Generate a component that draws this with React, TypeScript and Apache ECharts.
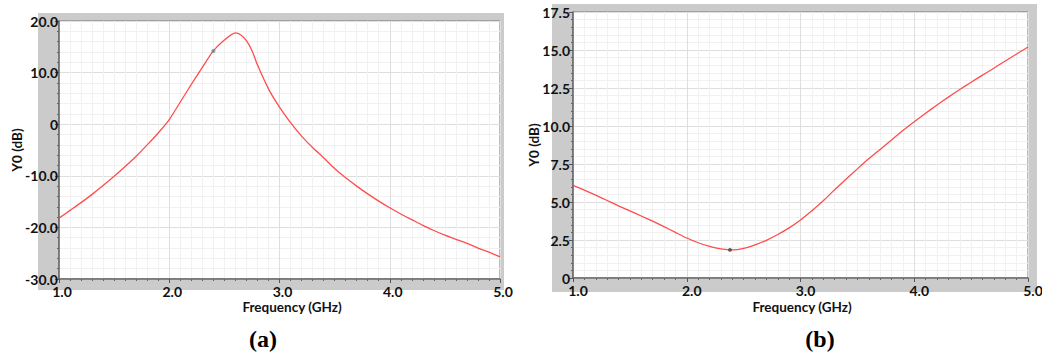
import React, { useEffect, useRef } from "react";
import * as echarts from "echarts";

// Frequency (GHz) sample points
const freqLeft = [1.0, 1.1, 1.2, 1.3, 1.4, 1.5, 1.6, 1.7, 1.8, 1.9, 2.0, 2.1, 2.2, 2.3, 2.4, 2.5, 2.6, 2.65, 2.7, 2.75, 2.8, 2.9, 3.0, 3.1, 3.2, 3.3, 3.4, 3.5, 3.6, 3.7, 3.8, 3.9, 4.0, 4.1, 4.2, 4.3, 4.4, 4.5, 4.6, 4.7, 4.8, 4.9, 5.0];
// Y0 (dB), chart (a)
const dbLeft = [-18.2, -16.7, -15.2, -13.6, -11.9, -10.1, -8.2, -6.2, -4.0, -1.7, 0.9, 4.3, 7.7, 11.0, 14.2, 16.3, 17.7, 17.3, 16.2, 14.3, 11.5, 6.85, 3.3, 0.3, -2.3, -4.5, -6.5, -8.6, -10.4, -12.0, -13.5, -14.9, -16.2, -17.4, -18.5, -19.6, -20.6, -21.5, -22.3, -23.1, -24.0, -24.8, -25.7];

const freqRight = [1.0, 1.1, 1.2, 1.3, 1.4, 1.5, 1.6, 1.7, 1.8, 1.9, 2.0, 2.1, 2.2, 2.3, 2.4, 2.5, 2.6, 2.7, 2.8, 2.9, 3.0, 3.1, 3.2, 3.3, 3.4, 3.5, 3.6, 3.7, 3.8, 3.9, 4.0, 4.1, 4.2, 4.3, 4.4, 4.5, 4.6, 4.7, 4.8, 4.9, 5.0];
// Y0 (dB), chart (b)
const dbRight = [6.1, 5.78, 5.45, 5.1, 4.75, 4.42, 4.08, 3.74, 3.38, 3.0, 2.63, 2.32, 2.08, 1.92, 1.85, 1.95, 2.18, 2.48, 2.86, 3.3, 3.82, 4.42, 5.08, 5.8, 6.5, 7.18, 7.84, 8.46, 9.08, 9.7, 10.28, 10.84, 11.38, 11.9, 12.4, 12.88, 13.35, 13.8, 14.28, 14.74, 15.2];

// marker points [freq, dB]
const markerLeft = [2.4, 14.2];
const markerRight = [2.38, 1.85];

const xTicks = { min: 1, max: 5, interval: 1 };
const yTicksLeft = { min: -30, max: 20, interval: 10 };
const yTicksRight = { min: 0, max: 17.5, interval: 2.5 };

const xTitle = "Frequency (GHz)";
const yTitle = "Y0 (dB)";
const panelLabels = ["(a)", "(b)"];

const FONT = "Lato, 'Open Sans', sans-serif";

function zip(xs: number[], ys: number[]) {
  return xs.map((x, i) => [x, ys[i]]);
}

const labelStyle = {
  color: "#111",
  fontFamily: FONT,
  fontWeight: "bold" as const,
  fontSize: 14,
  lineHeight: 12,
};

function makeX(gridIndex: number, shift: number) {
  return {
    type: "value",
    gridIndex,
    ...xTicks,
    axisLine: { show: true, onZero: false, lineStyle: { color: "#666", width: 1.5 } },
    axisTick: { show: true, length: 4, lineStyle: { color: "#555" } },
    minorTick: { show: true, splitNumber: 10, length: 2, lineStyle: { color: "#666" } },
    splitLine: { show: true, lineStyle: { color: "#dedede", width: 1 } },
    minorSplitLine: { show: true, lineStyle: { color: "#f1f1f1", width: 1 } },
    axisLabel: { ...labelStyle, margin: 6, padding: [0, 0, 0, shift], formatter: (v: number) => v.toFixed(1) },
  };
}

function makeY(gridIndex: number, ticks: any, margin: number) {
  return {
    type: "value",
    gridIndex,
    ...ticks,
    axisLine: { show: true, onZero: false, lineStyle: { color: "#666", width: 1.5 } },
    axisTick: { show: true, length: 4, lineStyle: { color: "#555" } },
    minorTick: { show: true, splitNumber: 5, length: 2, lineStyle: { color: "#666" } },
    splitLine: { show: true, lineStyle: { color: "#dedede", width: 1 } },
    minorSplitLine: { show: true, lineStyle: { color: "#f1f1f1", width: 1 } },
    axisLabel: {
      ...labelStyle,
      margin,
      formatter: (v: number) => (v === 0 ? "0" : v.toFixed(1)),
    },
  };
}

const lineSeries = (idx: number, data: number[][]) => ({
  type: "line",
  xAxisIndex: idx,
  yAxisIndex: idx,
  data,
  showSymbol: false,
  smooth: 0.25,
  lineStyle: { color: "#ff3a3a", width: 1.3, opacity: 0.9 },
  z: 3,
});

const markerSeries = (idx: number, p: number[], color: string) => ({
  type: "scatter",
  xAxisIndex: idx,
  yAxisIndex: idx,
  data: [p],
  symbolSize: 4,
  itemStyle: { color },
  z: 4,
});

const titleFont = `bold 13.5px ${FONT}`;

const option: any = {
  animation: false,
  backgroundColor: "#fff",
  grid: [
    { left: 59, top: 21, width: 441, height: 258, outerBoundsMode: "none", containLabel: false, show: true, backgroundColor: "#fff", borderColor: "#777", borderWidth: 1 },
    { left: 573, top: 12, width: 455, height: 266, outerBoundsMode: "none", containLabel: false, show: true, backgroundColor: "#fff", borderColor: "#777", borderWidth: 1 },
  ],
  xAxis: [makeX(0, 6), makeX(1, 10)],
  yAxis: [makeY(0, yTicksLeft, 1), makeY(1, yTicksRight, 3)],
  series: [
    lineSeries(0, zip(freqLeft, dbLeft)),
    lineSeries(1, zip(freqRight, dbRight)),
    markerSeries(0, markerLeft, "#5f8f8f"),
    markerSeries(1, markerRight, "#444"),
  ],
  graphic: [
    { type: "rect", z: -10, shape: { x: 38, y: 13, width: 466, height: 277 }, style: { fill: "#cbcbcb" } },
    { type: "rect", z: -10, shape: { x: 552, y: 4, width: 485, height: 288 }, style: { fill: "#cbcbcb" } },
    {
      type: "text", x: 17, y: 150, rotation: Math.PI / 2,
      style: { text: yTitle, align: "center", verticalAlign: "middle", fill: "#111", font: titleFont },
    },
    {
      type: "text", x: 534, y: 145, rotation: Math.PI / 2,
      style: { text: yTitle, align: "center", verticalAlign: "middle", fill: "#111", font: titleFont },
    },
    {
      type: "text", x: 292, y: 307,
      style: { text: xTitle, align: "center", verticalAlign: "middle", fill: "#111", font: titleFont },
    },
    {
      type: "text", x: 802, y: 307,
      style: { text: xTitle, align: "center", verticalAlign: "middle", fill: "#111", font: titleFont },
    },
    {
      type: "text", x: 263, y: 339,
      style: { text: panelLabels[0], align: "center", verticalAlign: "middle", fill: "#000", font: "bold 24px 'Liberation Serif', serif" },
    },
    {
      type: "text", x: 820, y: 339,
      style: { text: panelLabels[1], align: "center", verticalAlign: "middle", fill: "#000", font: "bold 24px 'Liberation Serif', serif" },
    },
  ],
};

export default function App() {
  const ref = useRef<HTMLDivElement>(null);
  useEffect(() => {
    const chart = echarts.init(ref.current!, null, { renderer: "svg" });
    chart.setOption(option);
    return () => chart.dispose();
  }, []);
  return (
    <div
      ref={ref}
      style={{ position: "absolute", left: 0, top: 0, width: 1042, height: 358 }}
    />
  );
}
